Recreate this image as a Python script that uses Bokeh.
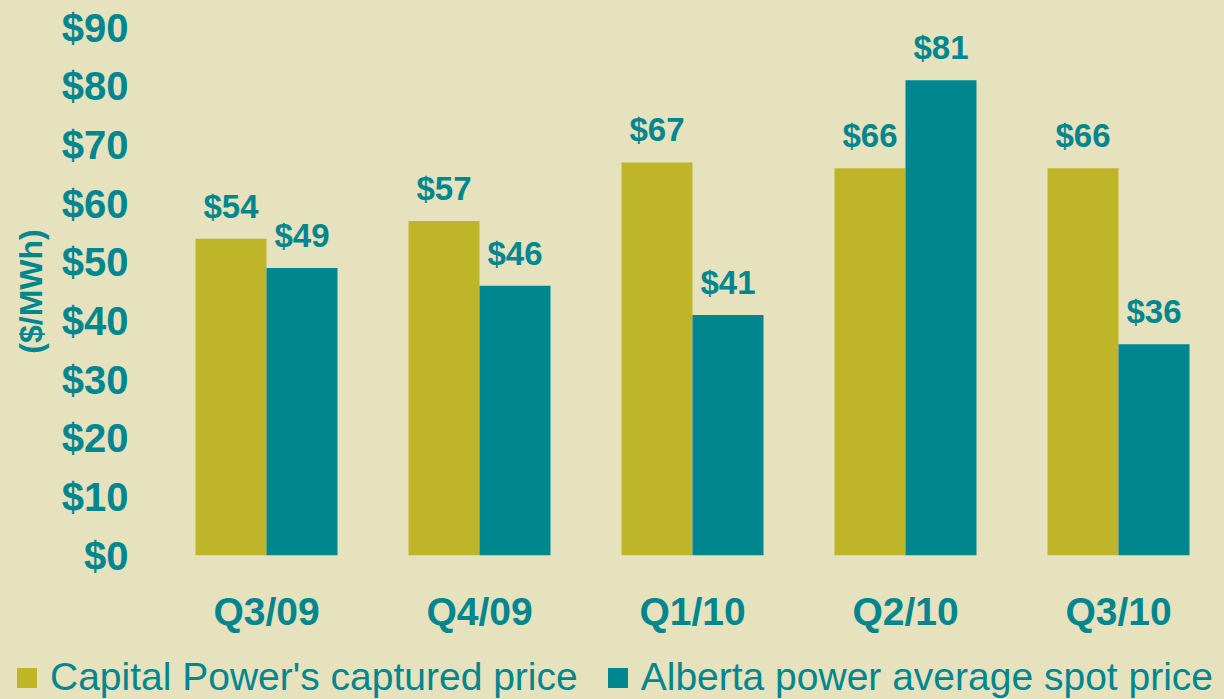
from bokeh.plotting import figure
from bokeh.models import ColumnDataSource, Range1d, FixedTicker, LabelSet, Legend, LegendItem
from bokeh.layouts import column, row
from bokeh.core.properties import value
from bokeh.embed import file_html
from bokeh.resources import INLINE

quarters = ["Q3/09", "Q4/09", "Q1/10", "Q2/10", "Q3/10"]
captured = [54, 57, 67, 66, 66]
spot = [49, 46, 41, 81, 36]
y_ticks = [0, 10, 20, 30, 40, 50, 60, 70, 80, 90]
y_tick_labels = ["$0", "$10", "$20", "$30", "$40", "$50", "$60", "$70", "$80", "$90"]
series_names = ["Capital Power's captured price", "Alberta power average spot price"]

BG = "#E5E2BD"
OLIVE = "#BFB528"
TEAL = "#00868F"
FONT = "Liberation Sans"

W, H = 1224, 650
LEG_H = 49
L, R, T = 140, 10, 27
B = H - T - 528
unit = 213.0
frame_w = W - L - R
x0 = -(266 - L) / unit
x1 = x0 + frame_w / unit

xs = list(range(len(quarters)))
src = ColumnDataSource(dict(
    x=xs,
    xc=[x - 1/6 for x in xs],
    xs=[x + 1/6 for x in xs],
    cap=captured,
    spot=spot,
    cap_lbl=["$%d" % v for v in captured],
    spot_lbl=["$%d" % v for v in spot],
))

p = figure(width=W, height=H, output_backend="svg", toolbar_location=None,
           x_range=Range1d(x0, x1), y_range=Range1d(0, 90),
           min_border_left=L, min_border_right=R, min_border_top=T, min_border_bottom=B)
p.background_fill_color = BG
p.border_fill_color = BG
p.outline_line_color = BG
p.outline_line_width = 2
p.grid.visible = False
p.styles = {"background-color": BG}

bw = 1/3
r1 = p.vbar(x="xc", top="cap", width=bw, source=src, fill_color=OLIVE, line_color=None)
r2 = p.vbar(x="xs", top="spot", width=bw, source=src, fill_color=TEAL, line_color=None)

for col, xcol, ycol in (("cap_lbl", "xc", "cap"), ("spot_lbl", "xs", "spot")):
    p.add_layout(LabelSet(x=xcol, y=ycol, text=col, source=src, y_offset=21,
                          text_align="center", text_baseline="alphabetic",
                          text_font=value(FONT), text_font_style="bold",
                          text_font_size="33px", text_color=TEAL))

# axes
p.yaxis.ticker = FixedTicker(ticks=y_ticks)
p.yaxis.major_label_overrides = {t: s for t, s in zip(y_ticks, y_tick_labels)}
p.xaxis.ticker = FixedTicker(ticks=xs)
p.xaxis.major_label_overrides = {x: q for x, q in zip(xs, quarters)}
for ax in (p.xaxis, p.yaxis):
    ax.axis_line_color = None
    ax.major_tick_line_color = None
    ax.minor_tick_line_color = None
    ax.major_tick_out = 0
    ax.major_tick_in = 0
    ax.major_label_text_font = FONT
    ax.major_label_text_font_style = "bold"
    ax.major_label_text_color = TEAL
p.yaxis.major_label_text_font_size = "40px"
p.yaxis.major_label_standoff = 12
p.yaxis.axis_label = "($/MWh)"
p.yaxis.axis_label_text_font = FONT
p.yaxis.axis_label_text_font_style = "bold"
p.yaxis.axis_label_text_font_size = "32px"
p.yaxis.axis_label_text_color = TEAL
p.yaxis.axis_label_standoff = 10
p.xaxis.major_label_text_font_size = "39px"
p.xaxis.major_label_standoff = 34

# legend strip below the chart (its own plot, frame spanning the full width)
p2 = figure(width=W, height=LEG_H, output_backend="svg", toolbar_location=None,
            x_range=Range1d(0, 1), y_range=Range1d(0, 1),
            x_axis_type=None, y_axis_type=None,
            min_border_left=0, min_border_right=0, min_border_top=0, min_border_bottom=0)
p2.background_fill_color = BG
p2.border_fill_color = BG
p2.outline_line_color = None
p2.grid.visible = False
p2.styles = {"background-color": BG}
off = ColumnDataSource(dict(x=[5], top=[0]))
g1 = p2.vbar(x="x", top="top", width=0.1, source=off, fill_color=OLIVE, line_color=None)
g2 = p2.vbar(x="x", top="top", width=0.1, source=off, fill_color=TEAL, line_color=None)
legend = Legend(items=[LegendItem(label=series_names[0], renderers=[g1]),
                       LegendItem(label=series_names[1], renderers=[g2])],
                location=(14, 0), orientation="horizontal",
                glyph_width=25, glyph_height=25, label_standoff=11, spacing=27,
                padding=0, margin=0, border_line_color=None,
                background_fill_alpha=0,
                label_text_font=FONT, label_text_font_size="39px",
                label_text_color=TEAL, label_height=25)
p2.add_layout(legend, "center")

inner = row(p2, spacing=0)
inner.styles = {"background-color": BG}
layout = column(p, inner, spacing=0)
layout.styles = {"background-color": BG}
open("out.html", "w").write(file_html(layout, INLINE))
